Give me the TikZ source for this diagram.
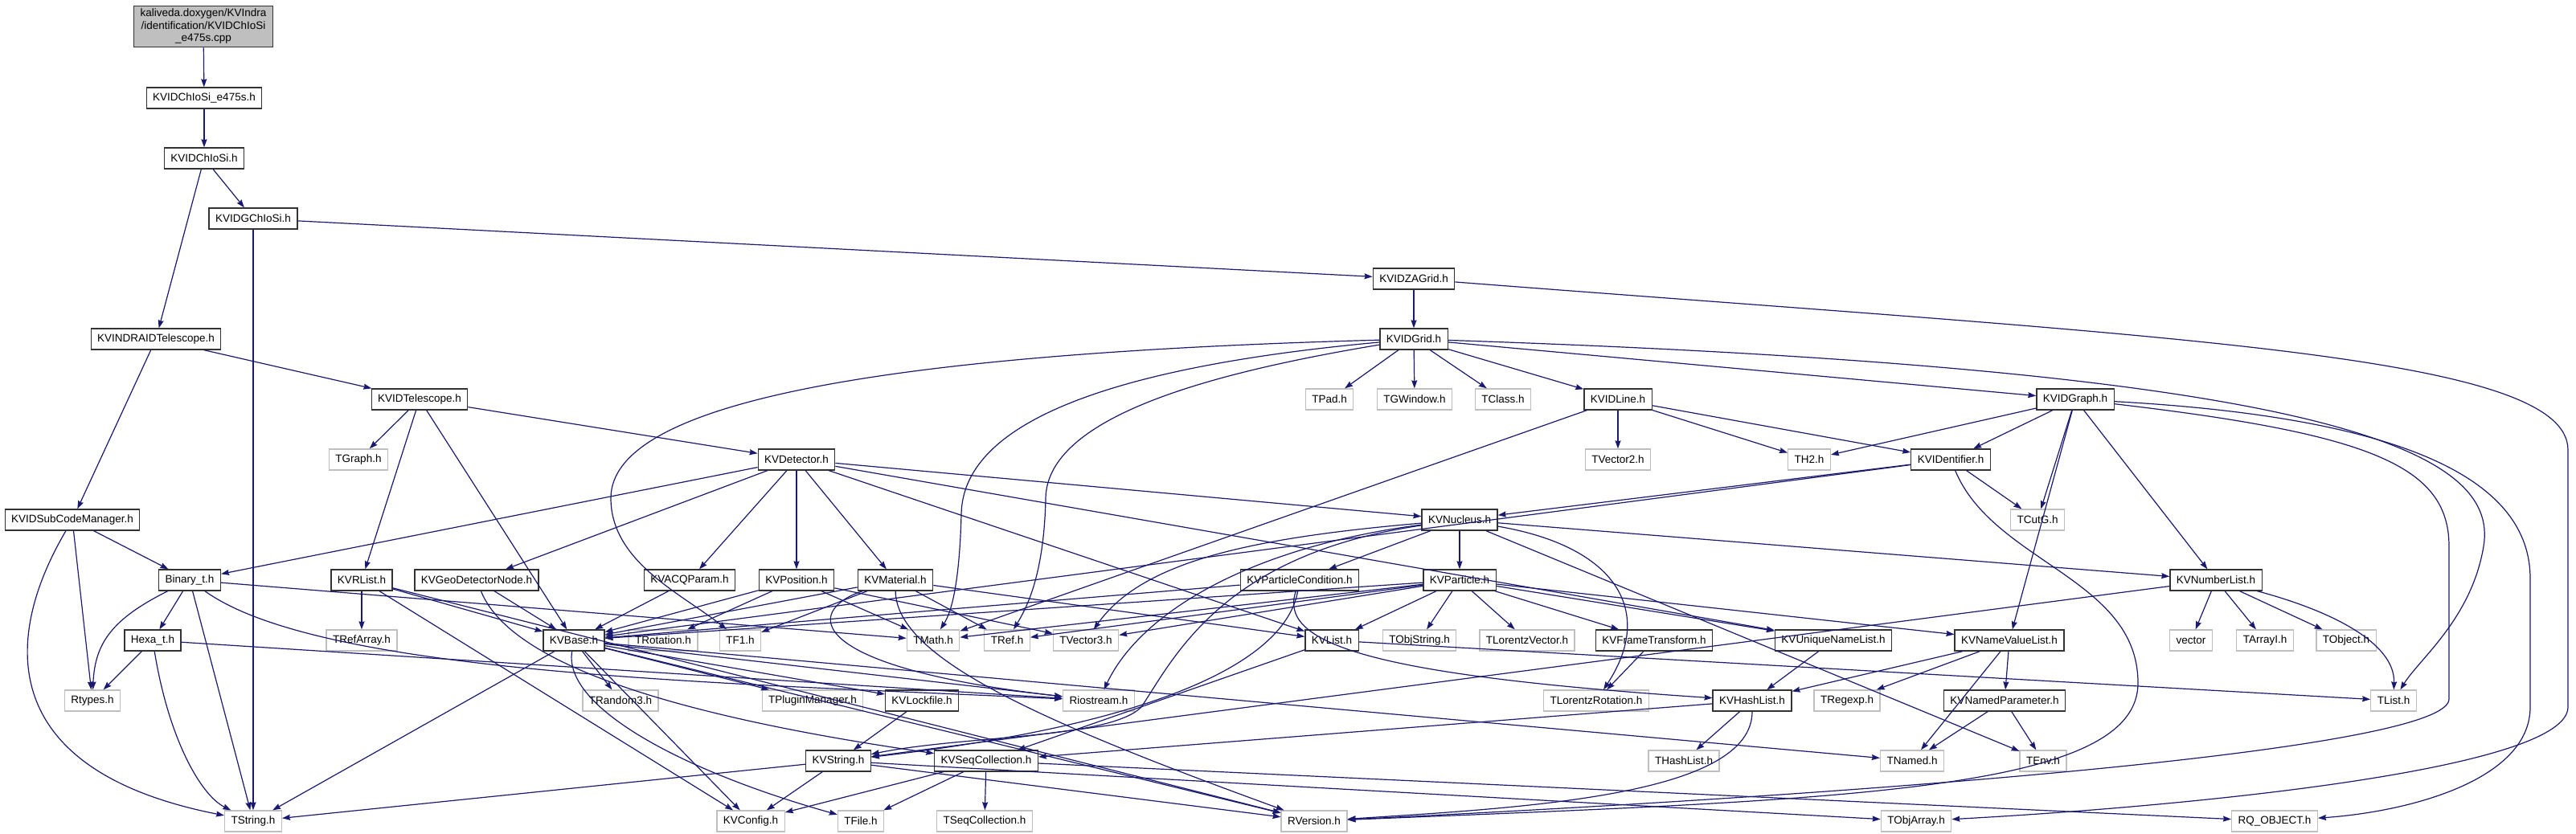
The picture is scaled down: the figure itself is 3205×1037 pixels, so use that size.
\documentclass[tikz,border=0pt]{standalone}
\usepackage{fontspec}
\setmainfont{Liberation Sans}
\usepackage{tikz}
\usetikzlibrary{arrows.meta}

\definecolor{edgeblue}{RGB}{25,25,112}
\tikzset{
  hdr/.style={draw=black!80, line width=1.3pt, fill=white, minimum height=26pt,
    inner xsep=8pt, inner ysep=0pt, font=\fontsize{13.5}{15.5}\selectfont},
  syshdr/.style={hdr, draw=black!25},
  srcfile/.style={hdr, fill=black!25, align=center, inner ysep=4pt},
  incl/.style={->, draw=edgeblue, line width=1.2pt},
}

\begin{document}
\begin{tikzpicture}[x=1pt, y=-1pt, >={Stealth[length=10pt, width=7pt, inset=1pt]}]
  \useasboundingbox (0,0) rectangle (3205,1037);
  % ranks from top to bottom
  \node[srcfile] (main) at (253,33) {kaliveda.doxygen/KVIndra\\/identification/KVIDChIoSi\\\_e475s.cpp};
  \node[hdr] (e475s) at (254,122) {KVIDChIoSi\_e475s.h};
  \node[hdr] (chiosi) at (254,197) {KVIDChIoSi.h};
  \node[hdr] (gchiosi) at (315,272) {KVIDGChIoSi.h};
  \node[hdr] (zagrid) at (1759,347) {KVIDZAGrid.h};
  \node[hdr] (indratel) at (194,422) {KVINDRAIDTelescope.h};
  \node[hdr] (idgrid) at (1759,422) {KVIDGrid.h};
  \node[hdr] (idtel) at (522,497) {KVIDTelescope.h};
  \node[syshdr] (tpad) at (1654,497) {TPad.h};
  \node[syshdr] (tgwindow) at (1760,497) {TGWindow.h};
  \node[syshdr] (tclass) at (1870,497) {TClass.h};
  \node[hdr] (idline) at (2013,497) {KVIDLine.h};
  \node[hdr] (idgraph) at (2582,497) {KVIDGraph.h};
  \node[syshdr] (tgraph) at (446,572) {TGraph.h};
  \node[hdr] (detector) at (991,572) {KVDetector.h};
  \node[syshdr] (tvector2) at (2013,572) {TVector2.h};
  \node[syshdr] (th2) at (2251,572) {TH2.h};
  \node[hdr] (identifier) at (2427,572) {KVIDentifier.h};
  \node[hdr] (subcode) at (90,647) {KVIDSubCodeManager.h};
  \node[hdr] (nucleus) at (1816,647) {KVNucleus.h};
  \node[syshdr] (tcutg) at (2535,647) {TCutG.h};
  \node[hdr] (binary) at (236,722) {Binary\_t.h};
  \node[hdr] (rlist) at (450,722) {KVRList.h};
  \node[hdr] (geonode) at (593,722) {KVGeoDetectorNode.h};
  \node[hdr] (acqparam) at (858,722) {KVACQParam.h};
  \node[hdr] (position) at (991,722) {KVPosition.h};
  \node[hdr] (material) at (1114,722) {KVMaterial.h};
  \node[hdr] (partcond) at (1617,722) {KVParticleCondition.h};
  \node[hdr] (particle) at (1816,722) {KVParticle.h};
  \node[hdr] (numberlist) at (2757,722) {KVNumberList.h};
  \node[hdr] (hexa) at (190,797) {Hexa\_t.h};
  \node[syshdr] (trefarray) at (450,797) {TRefArray.h};
  \node[hdr] (kvbase) at (714,797) {KVBase.h};
  \node[syshdr] (trotation) at (825,797) {TRotation.h};
  \node[syshdr] (tf1) at (921,797) {TF1.h};
  \node[syshdr] (tmath) at (1161,797) {TMath.h};
  \node[syshdr] (tref) at (1253,797) {TRef.h};
  \node[syshdr] (tvector3) at (1351,797) {TVector3.h};
  \node[hdr] (kvlist) at (1657,797) {KVList.h};
  \node[syshdr] (tobjstring) at (1766,797) {TObjString.h};
  \node[syshdr] (tlorentzvector) at (1900,797) {TLorentzVector.h};
  \node[hdr] (frametransform) at (2058,797) {KVFrameTransform.h};
  \node[hdr] (uniquenamelist) at (2281,797) {KVUniqueNameList.h};
  \node[hdr] (namevaluelist) at (2500,797) {KVNameValueList.h};
  \node[syshdr] (vector) at (2726,797) {vector};
  \node[syshdr] (tarrayi) at (2818,797) {TArrayI.h};
  \node[syshdr] (tobject) at (2919,797) {TObject.h};
  \node[syshdr] (rtypes) at (115,872) {Rtypes.h};
  \node[syshdr] (trandom3) at (772,872) {TRandom3.h};
  \node[syshdr] (tpluginmanager) at (1011,872) {TPluginManager.h};
  \node[hdr] (lockfile) at (1147,872) {KVLockfile.h};
  \node[syshdr] (riostream) at (1367,872) {Riostream.h};
  \node[syshdr] (tlorentzrotation) at (1986,872) {TLorentzRotation.h};
  \node[hdr] (hashlist) at (2180,872) {KVHashList.h};
  \node[syshdr] (tregexp) at (2298,872) {TRegexp.h};
  \node[hdr] (namedparameter) at (2494,872) {KVNamedParameter.h};
  \node[syshdr] (tlist) at (2978,872) {TList.h};
  \node[hdr] (kvstring) at (1043,947) {KVString.h};
  \node[hdr] (seqcollection) at (1227,947) {KVSeqCollection.h};
  \node[syshdr] (thashlist) at (2095,947) {THashList.h};
  \node[syshdr] (tnamed) at (2379,947) {TNamed.h};
  \node[syshdr] (tenv) at (2542,947) {TEnv.h};
  \node[syshdr] (tstring) at (315,1022) {TString.h};
  \node[syshdr] (kvconfig) at (934,1022) {KVConfig.h};
  \node[syshdr] (tfile) at (1071,1022) {TFile.h};
  \node[syshdr] (tseqcollection) at (1225,1022) {TSeqCollection.h};
  \node[syshdr] (rversion) at (1635,1022) {RVersion.h};
  \node[syshdr] (tobjarray) at (2384,1022) {TObjArray.h};
  \node[syshdr] (rqobject) at (2830,1022) {RQ\_OBJECT.h};

  % top chain
  \draw[incl] (main) -- (e475s);
  \draw[incl] (e475s) -- (chiosi);
  \draw[incl] (chiosi) -- (gchiosi);
  \draw[incl] (chiosi) -- (indratel);
  \draw[incl] (gchiosi) -- (zagrid);
  \draw[incl] (gchiosi) -- (tstring);
  \draw[incl] (zagrid) -- (idgrid);
  \draw[incl] (zagrid) .. controls (2700,420) and (3195,440) .. (3195,560) -- (3195,880) .. controls (3195,960) and (2700,1005) .. (tobjarray);
  \draw[incl] (indratel) -- (idtel);
  \draw[incl] (indratel) -- (subcode);
  % KVIDGrid
  \draw[incl] (idgrid) -- (tpad);
  \draw[incl] (idgrid) -- (tgwindow);
  \draw[incl] (idgrid) -- (tclass);
  \draw[incl] (idgrid) -- (idline);
  \draw[incl] (idgrid) -- (idgraph);
  \draw[incl] (idgrid) .. controls (2900,460) and (3110,560) .. (3090,680) .. controls (3075,770) and (3010,820) .. (tlist);
  \draw[incl] (idgrid) .. controls (1100,440) and (760,500) .. (760,620) .. controls (760,700) and (850,740) .. (tf1);
  \draw[incl] (idgrid) .. controls (1400,455) and (1198,520) .. (1196,640) .. controls (1194,720) and (1185,760) .. (tmath);
  \draw[incl] (idgrid) .. controls (1500,465) and (1303,520) .. (1301,620) .. controls (1299,720) and (1275,760) .. (tref);
  % KVIDTelescope
  \draw[incl] (idtel) -- (tgraph);
  \draw[incl] (idtel) -- (rlist);
  \draw[incl] (idtel) -- (kvbase);
  \draw[incl] (idtel) -- (detector);
  % KVIDLine and KVIDGraph
  \draw[incl] (idline) -- (tvector2);
  \draw[incl] (idline) -- (th2);
  \draw[incl] (idline) -- (identifier);
  \draw[incl] (idline) -- (tmath);
  \draw[incl] (idgraph) -- (identifier);
  \draw[incl] (idgraph) -- (tcutg);
  \draw[incl] (idgraph) -- (th2);
  \draw[incl] (idgraph) -- (namevaluelist);
  \draw[incl] (idgraph) -- (numberlist);
  \draw[incl] (idgraph) .. controls (2950,540) and (3047,580) .. (3047,680) -- (3047,870) .. controls (3047,930) and (2400,985) .. (rversion);
  \draw[incl] (idgraph) .. controls (3000,520) and (3148,600) .. (3148,720) -- (3148,880) .. controls (3148,970) and (3000,1010) .. (rqobject);
  % KVDetector
  \draw[incl] (detector) -- (binary);
  \draw[incl] (detector) -- (geonode);
  \draw[incl] (detector) -- (acqparam);
  \draw[incl] (detector) -- (position);
  \draw[incl] (detector) -- (material);
  \draw[incl] (detector) -- (nucleus);
  \draw[incl] (detector) -- (uniquenamelist);
  \draw[incl] (detector) -- (kvlist);
  % KVIDentifier
  \draw[incl] (identifier) -- (tcutg);
  \draw[incl] (identifier) -- (nucleus);
  \draw[incl] (identifier) -- (kvbase);
  \draw[incl] (identifier) .. controls (2480,700) and (2660,720) .. (2660,850) .. controls (2660,985) and (2300,995) .. (rversion);
  % KVIDSubCodeManager
  \draw[incl] (subcode) -- (binary);
  \draw[incl] (subcode) -- (rtypes);
  \draw[incl] (subcode) .. controls (0,800) and (0,960) .. (tstring);
  % KVNucleus
  \draw[incl] (nucleus) -- (partcond);
  \draw[incl] (nucleus) -- (particle);
  \draw[incl] (nucleus) .. controls (1550,670) and (1420,700) .. (tvector3);
  \draw[incl] (nucleus) -- (numberlist);
  \draw[incl] (nucleus) .. controls (2010,680) and (2060,760) .. (tlorentzrotation);
  \draw[incl] (nucleus) -- (tenv);
  \draw[incl] (nucleus) .. controls (1560,680) and (1420,760) .. (riostream);
  \draw[incl] (nucleus) .. controls (1520,690) and (1460,820) .. (1420,880) .. controls (1380,920) and (1200,915) .. (kvstring);
  % Binary_t and Hexa_t
  \draw[incl] (binary) .. controls (140,770) and (118,800) .. (rtypes);
  \draw[incl] (binary) -- (hexa);
  \draw[incl] (binary) -- (tstring);
  \draw[incl] (binary) -- (tmath);
  \draw[incl] (binary) .. controls (400,840) and (900,850) .. (riostream);
  \draw[incl] (hexa) -- (rtypes);
  \draw[incl] (hexa) .. controls (210,920) and (250,990) .. (tstring);
  \draw[incl] (hexa) -- (riostream);
  % KVRList, KVGeoDetectorNode, KVACQParam, KVPosition, KVMaterial
  \draw[incl] (rlist) -- (trefarray);
  \draw[incl] (rlist) -- (kvbase);
  \draw[incl] (rlist) -- (kvconfig);
  \draw[incl] (rlist) -- (rversion);
  \draw[incl] (geonode) -- (kvbase);
  \draw[incl] (geonode) .. controls (640,840) and (900,900) .. (seqcollection);
  \draw[incl] (acqparam) -- (kvbase);
  \draw[incl] (position) -- (kvbase);
  \draw[incl] (position) -- (trotation);
  \draw[incl] (position) -- (tmath);
  \draw[incl] (position) -- (tvector3);
  \draw[incl] (material) -- (kvbase);
  \draw[incl] (material) -- (tf1);
  \draw[incl] (material) -- (tref);
  \draw[incl] (material) .. controls (1000,760) and (1000,830) .. (riostream);
  \draw[incl] (material) -- (kvlist);
  \draw[incl] (material) .. controls (1115,820) and (1300,900) .. (rversion);
  % KVParticleCondition and KVParticle
  \draw[incl] (partcond) -- (kvbase);
  \draw[incl] (partcond) .. controls (1590,800) and (1700,840) .. (hashlist);
  \draw[incl] (partcond) .. controls (1600,820) and (1450,900) .. (kvstring);
  \draw[incl] (particle) -- (kvbase);
  \draw[incl] (particle) -- (tmath);
  \draw[incl] (particle) -- (tref);
  \draw[incl] (particle) -- (tvector3);
  \draw[incl] (particle) -- (kvlist);
  \draw[incl] (particle) -- (tobjstring);
  \draw[incl] (particle) -- (tlorentzvector);
  \draw[incl] (particle) -- (frametransform);
  \draw[incl] (particle) -- (uniquenamelist);
  \draw[incl] (particle) -- (namevaluelist);
  % KVNumberList
  \draw[incl] (numberlist) -- (vector);
  \draw[incl] (numberlist) -- (tarrayi);
  \draw[incl] (numberlist) -- (tobject);
  \draw[incl] (numberlist) .. controls (2900,760) and (2980,800) .. (tlist);
  \draw[incl] (numberlist) -- (kvstring);
  % KVBase
  \draw[incl] (kvbase) -- (tstring);
  \draw[incl] (kvbase) -- (trandom3);
  \draw[incl] (kvbase) -- (tpluginmanager);
  \draw[incl] (kvbase) -- (lockfile);
  \draw[incl] (kvbase) -- (riostream);
  \draw[incl] (kvbase) -- (kvconfig);
  \draw[incl] (kvbase) .. controls (700,880) and (850,960) .. (tfile);
  \draw[incl] (kvbase) -- (rversion);
  \draw[incl] (kvbase) -- (tnamed);
  % lists and collections
  \draw[incl] (kvlist) -- (seqcollection);
  \draw[incl] (kvlist) -- (tlist);
  \draw[incl] (frametransform) -- (tlorentzrotation);
  \draw[incl] (uniquenamelist) -- (hashlist);
  \draw[incl] (namevaluelist) -- (hashlist);
  \draw[incl] (namevaluelist) -- (tregexp);
  \draw[incl] (namevaluelist) -- (tnamed);
  \draw[incl] (namevaluelist) -- (namedparameter);
  \draw[incl] (lockfile) -- (kvstring);
  \draw[incl] (hashlist) -- (thashlist);
  \draw[incl] (hashlist) -- (seqcollection);
  \draw[incl] (hashlist) .. controls (2180,990) and (1900,1005) .. (rversion);
  \draw[incl] (namedparameter) -- (tnamed);
  \draw[incl] (namedparameter) -- (tenv);
  \draw[incl] (kvstring) -- (tstring);
  \draw[incl] (kvstring) -- (kvconfig);
  \draw[incl] (kvstring) -- (rversion);
  \draw[incl] (kvstring) -- (tobjarray);
  \draw[incl] (seqcollection) -- (tseqcollection);
  \draw[incl] (seqcollection) -- (tfile);
  \draw[incl] (seqcollection) -- (kvconfig);
  \draw[incl] (seqcollection) -- (rqobject);
\end{tikzpicture}
\end{document}
